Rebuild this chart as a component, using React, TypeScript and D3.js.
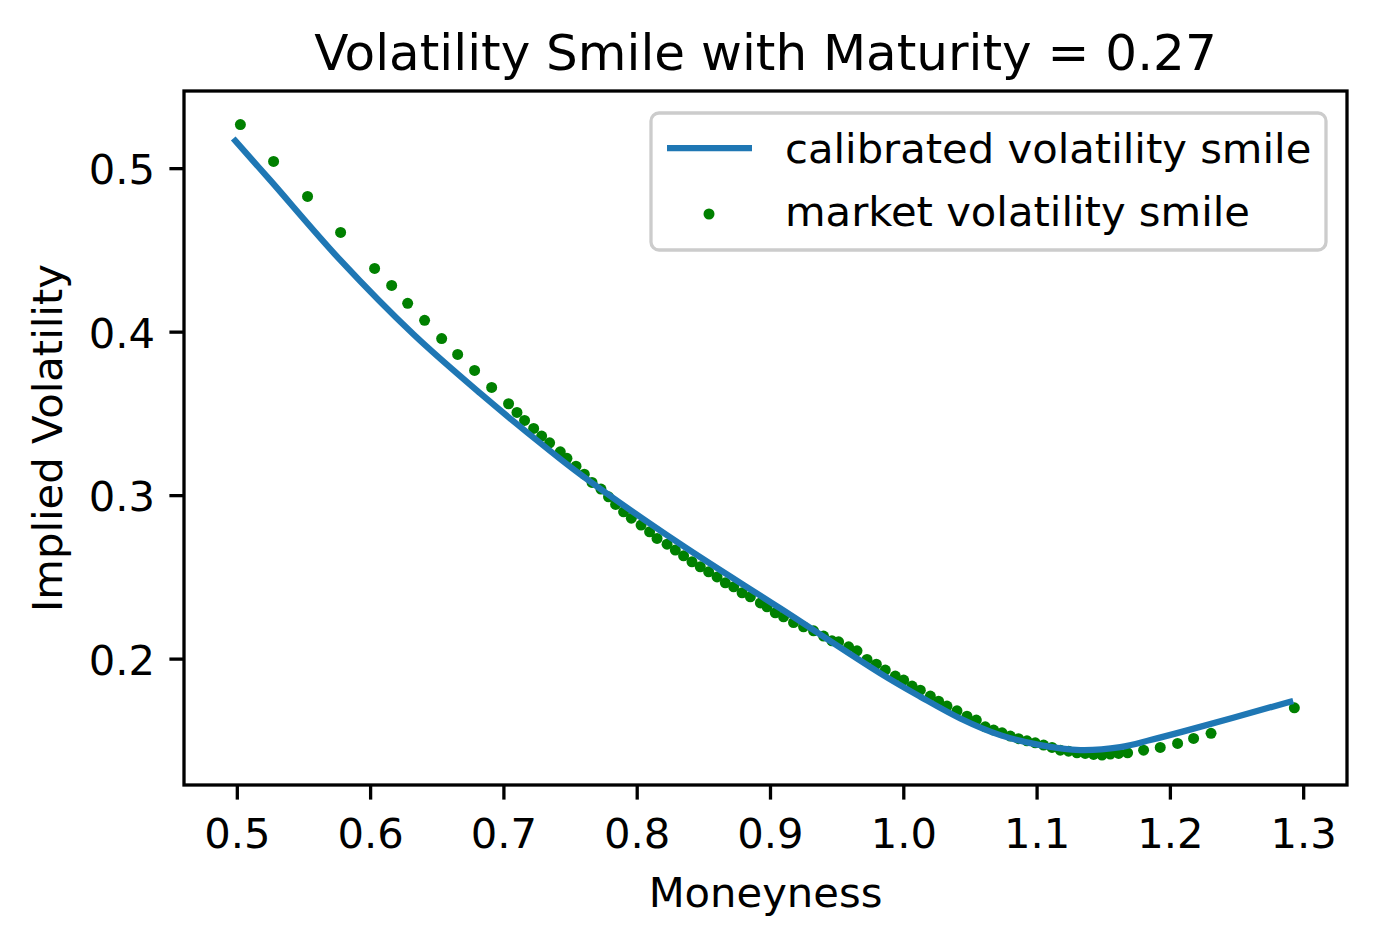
import * as d3 from "d3";

// market volatility smile (moneyness, implied vol)
const marketMoneyness = [
  0.5023, 0.5272, 0.5527, 0.5775, 0.603, 0.6158, 0.6278, 0.6405, 0.6533, 0.6653,
  0.678, 0.6908, 0.7035, 0.7098, 0.7155, 0.7223, 0.7283, 0.7343, 0.7423, 0.7473,
  0.7541, 0.7603, 0.7661, 0.7728, 0.7785, 0.7838, 0.7898, 0.7956, 0.8029, 0.8093,
  0.8149, 0.8224, 0.8286, 0.8348, 0.8411, 0.8473, 0.8536, 0.8599, 0.8661, 0.8724,
  0.8787, 0.8849, 0.8924, 0.8974, 0.9036, 0.9098, 0.9173, 0.9248, 0.9323, 0.9398,
  0.9461, 0.9511, 0.9586, 0.9649, 0.9724, 0.9794, 0.9861, 0.9936, 0.9999, 1.0062,
  1.0124, 1.0199, 1.0261, 1.0324, 1.0399, 1.0474, 1.0544, 1.0611, 1.0674, 1.0737,
  1.0799, 1.0861, 1.0924, 1.0986, 1.1049, 1.1112, 1.1174, 1.1236, 1.1299, 1.1361,
  1.1424, 1.1487, 1.1549, 1.1612, 1.1679, 1.1799, 1.1924, 1.2054, 1.2174, 1.2305,
  1.293,
];
const marketVol = [
  0.527, 0.5044, 0.483, 0.461, 0.439, 0.4286, 0.4176, 0.4072, 0.3961, 0.3864,
  0.3766, 0.3662, 0.3562, 0.3509, 0.346, 0.3411, 0.3364, 0.3323, 0.3268, 0.3228,
  0.318, 0.3131, 0.3081, 0.304, 0.2993, 0.2946, 0.2901, 0.2862, 0.282, 0.2779,
  0.2738, 0.2703, 0.2667, 0.2632, 0.2595, 0.2565, 0.2534, 0.2503, 0.2467, 0.2442,
  0.2406, 0.2381, 0.2344, 0.232, 0.2283, 0.2259, 0.2224, 0.2198, 0.2173, 0.2141,
  0.2112, 0.2106, 0.2075, 0.2051, 0.1998, 0.1969, 0.1933, 0.1896, 0.1872, 0.1835,
  0.181, 0.1774, 0.1743, 0.1713, 0.1684, 0.1651, 0.1627, 0.1586, 0.1566, 0.1549,
  0.1529, 0.1513, 0.15, 0.1488, 0.1474, 0.146, 0.1443, 0.1437, 0.1427, 0.1423,
  0.1417, 0.1413, 0.1419, 0.1423, 0.1427, 0.1443, 0.146, 0.1484, 0.1515, 0.1546,
  0.1702,
];

// calibrated smile, sampled along the fitted curve
const calibMoneyness = [
  0.4985, 0.5248, 0.5773, 0.6323, 0.6823, 0.7323, 0.7575, 0.8324, 0.9074, 0.9824,
  1.0124, 1.0424, 1.0724, 1.1024, 1.1324, 1.1624, 1.185, 1.2099, 1.2899,
];
const calibVol = [
  0.517, 0.4928, 0.444, 0.3985, 0.3625, 0.3289, 0.3129, 0.2703, 0.231, 0.1913,
  0.177, 0.1637, 0.1535, 0.1474, 0.1444, 0.1462, 0.1505, 0.1558, 0.1739,
];

const xTicks = [0.5, 0.6, 0.7, 0.8, 0.9, 1.0, 1.1, 1.2, 1.3];
const yTicks = [0.2, 0.3, 0.4, 0.5];

const W = 1376;
const H = 945;
const plot = { left: 184, right: 1347, top: 91, bottom: 785 };
const fs = 41.7;
const font = "'DejaVu Sans', sans-serif";

export default function App() {
  const x = d3.scaleLinear().domain([0.46, 1.3325]).range([plot.left, plot.right]);
  const y = d3.scaleLinear().domain([0.123, 0.5475]).range([plot.bottom, plot.top]);
  const fmt = d3.format(".1f");

  const line = d3
    .line<number>()
    .x((d, i) => x(calibMoneyness[i]))
    .y((d) => y(d))
    .curve(d3.curveCatmullRom.alpha(0.5));

  const cx = (plot.left + plot.right) / 2;
  const cy = (plot.top + plot.bottom) / 2;

  return (
    <svg
      width={W}
      height={H}
      style={{ position: "absolute", left: 0, top: 0, background: "white" }}
      fontFamily={font}
    >
      <rect x={0} y={0} width={W} height={H} fill="white" />

      {/* market points under the line */}
      {marketVol.map((v, i) => (
        <circle key={i} cx={x(marketMoneyness[i])} cy={y(v)} r={5.5} fill="#008000" />
      ))}

      <path
        d={line(calibVol) || ""}
        fill="none"
        stroke="#1f77b4"
        strokeWidth={6.25}
        strokeLinecap="square"
      />

      {/* frame */}
      <rect
        x={plot.left}
        y={plot.top}
        width={plot.right - plot.left}
        height={plot.bottom - plot.top}
        fill="none"
        stroke="black"
        strokeWidth={3.3}
      />

      {/* x axis */}
      {xTicks.map((t) => (
        <g key={t}>
          <line x1={x(t)} x2={x(t)} y1={plot.bottom} y2={plot.bottom + 14.6} stroke="black" strokeWidth={3.3} />
          <text x={x(t)} y={848} fontSize={fs} textAnchor="middle">
            {fmt(t)}
          </text>
        </g>
      ))}
      <text x={cx} y={907} fontSize={fs} textAnchor="middle">
        Moneyness
      </text>

      {/* y axis */}
      {yTicks.map((t) => (
        <g key={t}>
          <line x1={plot.left - 14.6} x2={plot.left} y1={y(t)} y2={y(t)} stroke="black" strokeWidth={3.3} />
          <text x={155} y={y(t) + 15.5} fontSize={fs} textAnchor="end">
            {fmt(t)}
          </text>
        </g>
      ))}
      <text
        transform={`translate(62,${cy}) rotate(-90)`}
        fontSize={fs}
        textAnchor="middle"
      >
        Implied Volatility
      </text>

      <text x={cx} y={70} fontSize={50} textAnchor="middle">
        Volatility Smile with Maturity = 0.27
      </text>

      {/* legend */}
      <g>
        <rect
          x={651}
          y={113}
          width={675}
          height={137}
          rx={8}
          fill="white"
          fillOpacity={0.8}
          stroke="#cccccc"
          strokeWidth={3.3}
        />
        <line x1={667} x2={752} y1={148} y2={148} stroke="#1f77b4" strokeWidth={6.25} />
        <text x={785} y={163} fontSize={fs}>
          calibrated volatility smile
        </text>
        <circle cx={709} cy={214} r={5.5} fill="#008000" />
        <text x={785} y={226} fontSize={fs}>
          market volatility smile
        </text>
      </g>
    </svg>
  );
}
